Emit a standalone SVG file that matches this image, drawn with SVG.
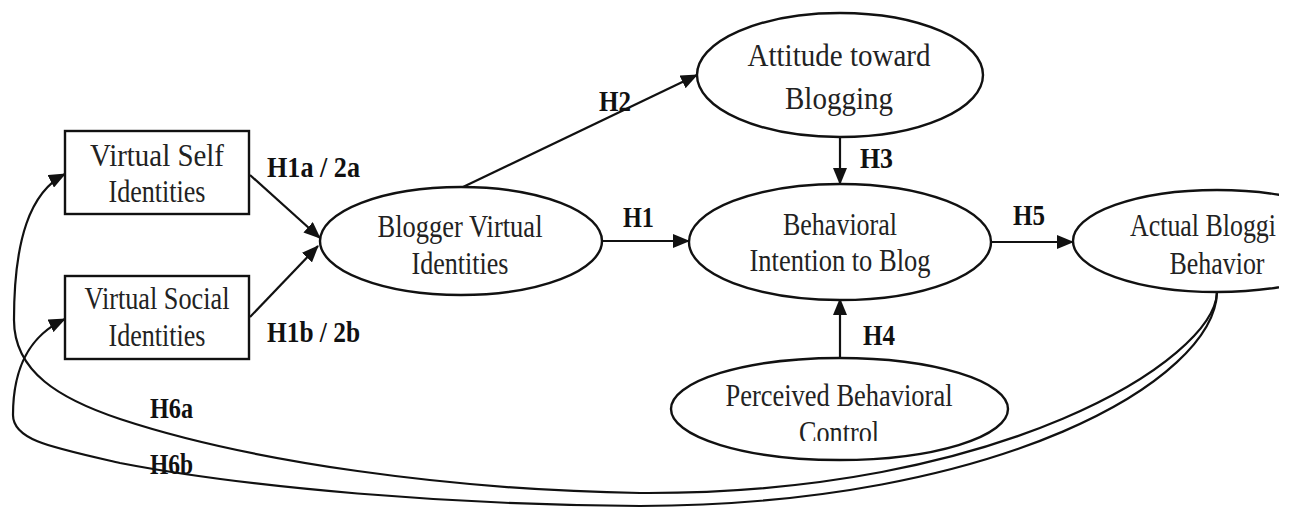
<svg xmlns="http://www.w3.org/2000/svg" width="1292" height="508" viewBox="0 0 1292 508">
<style>
.n{fill:#fff;stroke:#111;stroke-width:2.4}
.t{font-family:"Liberation Serif","Times New Roman",serif;font-size:31px;fill:#222;text-anchor:middle}
.l{font-family:"Liberation Serif","Times New Roman",serif;font-size:29px;font-weight:bold;fill:#111}
.c{fill:none;stroke:#111;stroke-width:2.2}
</style>
<defs>
<marker id="ah" markerUnits="userSpaceOnUse" markerWidth="17" markerHeight="14" refX="16" refY="7" orient="auto">
<path d="M0,0 L17,7 L0,14 z" fill="#111"/>
</marker>
<clipPath id="edge"><rect x="0" y="0" width="1279" height="508"/></clipPath>
<clipPath id="ctl"><rect x="600" y="300" width="500" height="141"/></clipPath>
</defs>
<rect width="1292" height="508" fill="#fff"/>
<g id="connectors">
<path class="c" d="M250,175 L320,238" marker-end="url(#ah)"/>
<path class="c" d="M250,317 L318,246" marker-end="url(#ah)"/>
<path class="c" d="M463,187 L697,75" marker-end="url(#ah)"/>
<path class="c" d="M602,241 L689,241" marker-end="url(#ah)"/>
<path class="c" d="M840,137 L840,184" marker-end="url(#ah)"/>
<path class="c" d="M840,358 L840,299" marker-end="url(#ah)"/>
<path class="c" d="M991,242 L1073,242" marker-end="url(#ah)"/>
<path class="c" d="M1217,292 C1215,360 1000,495 640,493 C450,490 250,462 120,419 C60,399 14,372 14,320 C14,240 30,192 65,174" marker-end="url(#ah)"/>
<path class="c" d="M1217,292 C1215,380 1000,505 640,506 C450,505 250,488 120,463 C50,447 13,440 13,415 C13,360 35,333 65,319" marker-end="url(#ah)"/>
<text class="l" x="267" y="177" textLength="93" lengthAdjust="spacingAndGlyphs">H1a / 2a</text>
<text class="l" x="267" y="342" textLength="93" lengthAdjust="spacingAndGlyphs">H1b / 2b</text>
<text class="l" x="599" y="111" textLength="32" lengthAdjust="spacingAndGlyphs">H2</text>
<text class="l" x="623" y="227" textLength="31" lengthAdjust="spacingAndGlyphs">H1</text>
<text class="l" x="860" y="168" textLength="33" lengthAdjust="spacingAndGlyphs">H3</text>
<text class="l" x="863" y="345" textLength="32" lengthAdjust="spacingAndGlyphs">H4</text>
<text class="l" x="1013" y="225" textLength="32" lengthAdjust="spacingAndGlyphs">H5</text>
<text class="l" x="150" y="418" textLength="43" lengthAdjust="spacingAndGlyphs">H6a</text>
<text class="l" x="150" y="474" textLength="43" lengthAdjust="spacingAndGlyphs">H6b</text>
</g>
<g id="virtual-self">
<rect class="n" x="65" y="131" width="184" height="83"/>
<text class="t" x="157" y="166" textLength="134" lengthAdjust="spacingAndGlyphs">Virtual Self</text>
<text class="t" x="157" y="202" textLength="97" lengthAdjust="spacingAndGlyphs">Identities</text>
</g>
<g id="virtual-social">
<rect class="n" x="65" y="276" width="184" height="83"/>
<text class="t" x="157" y="309" textLength="145" lengthAdjust="spacingAndGlyphs">Virtual Social</text>
<text class="t" x="157" y="346" textLength="97" lengthAdjust="spacingAndGlyphs">Identities</text>
</g>
<g id="blogger">
<ellipse class="n" cx="461" cy="241" rx="141" ry="54"/>
<text class="t" x="460" y="237" textLength="165" lengthAdjust="spacingAndGlyphs">Blogger Virtual</text>
<text class="t" x="460" y="274" textLength="97" lengthAdjust="spacingAndGlyphs">Identities</text>
</g>
<g id="attitude">
<ellipse class="n" cx="840" cy="75" rx="143" ry="62"/>
<text class="t" x="839" y="66" textLength="183" lengthAdjust="spacingAndGlyphs">Attitude toward</text>
<text class="t" x="839" y="109" textLength="108" lengthAdjust="spacingAndGlyphs">Blogging</text>
</g>
<g id="intention">
<ellipse class="n" cx="840" cy="242" rx="151" ry="58"/>
<text class="t" x="840" y="235" textLength="114" lengthAdjust="spacingAndGlyphs">Behavioral</text>
<text class="t" x="840" y="271" textLength="181" lengthAdjust="spacingAndGlyphs">Intention to Blog</text>
</g>
<g id="perceived">
<ellipse class="n" cx="839.5" cy="409" rx="168.5" ry="51"/>
<text class="t" x="839" y="406" textLength="227" lengthAdjust="spacingAndGlyphs">Perceived Behavioral</text>
<text class="t" x="839" y="443" textLength="80" lengthAdjust="spacingAndGlyphs" clip-path="url(#ctl)">Control</text>
</g>
<g id="actual">
<ellipse class="n" cx="1217" cy="241" rx="144" ry="51" clip-path="url(#edge)"/>
<text class="t" x="1130" y="236" style="text-anchor:start" textLength="146" lengthAdjust="spacingAndGlyphs">Actual Bloggi</text>
<text class="t" x="1217" y="274" textLength="95" lengthAdjust="spacingAndGlyphs">Behavior</text>
</g>
</svg>
